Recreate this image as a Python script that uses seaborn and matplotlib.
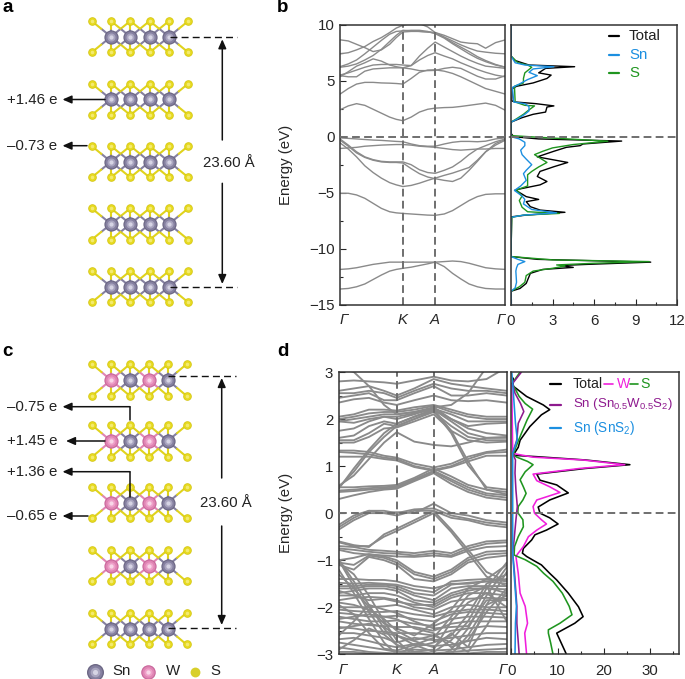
import pandas as pd
import matplotlib.pyplot as plt
import seaborn as sns

# ---- band structure, panel b: energies (eV) at the k grid
k_b = [0, .05, .1, .15, .2, .25, .3, .34, .38, .43, .48, .53, .575, .63, .68, .73, .78, .83, .88, .94, 1]
bands_b = [
    [-13.6, -13.55, -13.4, -13.15, -12.75, -12.35, -12.0, -11.85, -11.75, -11.65, -11.5, -11.35, -11.2, -11.6, -12.2, -12.7, -13.15, -13.4, -13.55, -13.6, -13.6],
    [-11.85, -11.8, -11.7, -11.55, -11.4, -11.3, -11.2, -11.2, -11.2, -11.2, -11.2, -11.2, -11.2, -11.15, -11.1, -11.15, -11.3, -11.5, -11.7, -11.8, -11.85],
    [-5.05, -5.05, -5.2, -5.5, -5.95, -6.4, -6.7, -6.8, -6.85, -6.9, -6.95, -7.0, -7.02, -6.9, -6.6, -6.15, -5.7, -5.35, -5.15, -5.1, -5.1],
    [-.55, -1.1, -1.8, -2.6, -3.2, -3.7, -4.1, -4.3, -4.45, -4.35, -4.15, -3.9, -3.7, -3.45, -3.25, -3.0, -2.75, -2.1, -1.35, -.75, -.3],
    [-.3, -.85, -1.45, -1.85, -2.1, -2.25, -2.3, -2.3, -2.35, -2.85, -3.3, -3.6, -3.75, -3.9, -4.0, -3.7, -3.0, -2.2, -1.35, -.6, -.25],
    [-.2, -.75, -1.35, -1.8, -2.05, -2.2, -2.25, -2.25, -2.25, -2.5, -2.95, -3.2, -3.27, -3.0, -2.7, -2.2, -1.6, -1.1, -.8, -.45, -.2],
    [-1.05, -1.0, -.95, -.85, -.8, -.75, -.72, -.7, -.7, -.75, -.85, -.9, -.95, -1.05, -1.15, -1.2, -1.15, -1.1, -1.1, -1.05, -1.05],
    [-.1, -.15, -.2, -.25, -.3, -.33, -.38, -.42, -.45, -.65, -.8, -.85, -.85, -.65, -.5, -.42, -.42, -.45, -.4, -.2, -.1],
    [2.4, 2.75, 2.95, 2.8, 2.45, 2.1, 1.75, 1.55, 1.43, 1.75, 2.2, 2.45, 2.55, 2.6, 2.62, 2.7, 2.8, 2.9, 3.0, 2.8, 2.35],
    [3.8, 4.3, 4.7, 4.85, 4.85, 4.8, 4.78, 4.75, 4.7, 5.2, 5.75, 5.95, 5.97, 5.85, 5.65, 5.35, 5.0, 4.65, 4.3, 4.05, 3.8],
    [5.45, 5.35, 5.35, 5.85, 6.05, 6.1, 6.15, 6.15, 6.15, 6.05, 5.9, 5.9, 5.92, 6.1, 6.2, 6.1, 5.75, 5.4, 5.15, 5.15, 5.45],
    [5.35, 5.8, 6.3, 6.6, 6.95, 6.75, 6.4, 6.25, 6.15, 6.35, 6.85, 7.25, 7.5, 7.2, 6.95, 6.6, 6.3, 6.0, 5.75, 5.5, 5.35],
    [5.5, 5.7, 5.95, 6.2, 6.4, 6.45, 6.45, 6.45, 6.4, 6.35, 7.2, 7.9, 8.45, 8.0, 7.6, 7.2, 6.85, 6.55, 6.3, 6.2, 6.1],
    [6.2, 6.3, 6.5, 6.85, 7.25, 7.8, 8.5, 9.05, 9.5, 9.45, 9.4, 9.35, 9.25, 8.85, 8.4, 8.0, 7.6, 7.15, 6.8, 6.45, 6.2],
    [7.4, 7.5, 7.75, 8.05, 8.5, 8.85, 9.3, 9.7, 9.95, 10.1, 10.1, 9.8, 9.3, 8.9, 8.55, 8.2, 7.9, 7.65, 7.55, 7.45, 7.4],
    [8.65, 8.55, 8.25, 7.95, 7.6, 7.75, 8.25, 8.85, 9.35, 9.4, 9.4, 9.35, 9.3, 9.05, 8.75, 8.45, 8.35, 8.3, 7.9, 8.4, 8.65],
    [6.25, 6.5, 6.85, 7.4, 8.0, 8.6, 9.15, 9.4, 9.45, 9.5, 9.5, 9.4, 9.2, 8.8, 8.3, 7.85, 7.4, 7.0, 6.7, 6.4, 6.2],
]

# ---- band structure, panel d
k_d = [0, .09, .18, .27, .345, .45, .565, .67, .77, .88, 1]
bands_d = [
    [2.55, 2.55, 2.6, 2.55, 2.45, 2.6, 2.75, 2.65, 2.6, 2.6, 2.55],
    [2.6, 2.65, 2.7, 2.6, 2.5, 2.65, 2.85, 2.75, 2.7, 2.65, 2.6],
    [2.45, 2.5, 2.55, 2.4, 2.4, 2.55, 2.7, 2.5, 2.5, 2.55, 2.5],
    [2.35, 2.42, 2.45, 2.35, 2.3, 2.4, 2.5, 2.4, 2.38, 2.4, 2.35],
    [2.8, 2.82, 2.8, 2.78, 2.75, 2.82, 2.9, 2.82, 2.8, 2.85, 3.1],
    [3.1, 3.0, 2.7, 2.3, 2.1, 2.15, 2.25, 2.3, 2.55, 3.1, 3.3],
    [2.05, 2.1, 2.2, 2.2, 2.18, 2.25, 2.3, 2.2, 2.1, 2.05, 2.05],
    [2.0, 2.05, 2.12, 2.15, 2.15, 2.2, 2.28, 2.15, 2.05, 2.0, 2.0],
    [1.95, 2.0, 2.05, 2.1, 2.1, 2.15, 2.22, 2.1, 1.95, 1.95, 1.95],
    [1.95, 1.92, 2.0, 2.05, 2.05, 2.12, 2.2, 2.0, 1.85, 1.9, 1.92],
    [1.75, 1.8, 1.95, 2.05, 2.0, 2.1, 2.25, 2.0, 1.8, 1.7, 1.65],
    [1.6, 1.65, 1.85, 1.95, 1.9, 2.05, 2.2, 1.95, 1.7, 1.6, 1.6],
    [1.55, 1.55, 1.7, 1.9, 1.85, 2.0, 2.15, 1.85, 1.62, 1.55, 1.55],
    [1.5, 1.5, 1.62, 1.8, 1.82, 1.95, 2.1, 1.75, 1.55, 1.5, 1.52],
    [1.33, 1.33, 1.3, 1.22, 1.18, 1.05, .97, 1.05, 1.2, 1.3, 1.35],
    [1.3, 1.28, 1.25, 1.18, 1.15, 1.0, .92, 1.0, 1.15, 1.28, 1.3],
    [1.2, 1.2, 1.2, 1.15, 1.12, .98, .9, .98, 1.1, 1.22, 1.22],
    [.55, .55, .57, .58, .6, .75, .95, .78, .6, .5, .45],
    [.48, .5, .53, .55, .57, .72, .9, .72, .55, .42, .38],
    [.45, .47, .5, .52, .55, .7, .88, .68, .5, .38, .33],
    [.3, .38, .45, .5, .52, .68, .85, .62, .45, .33, .28],
    [.58, .8, 1.15, 1.5, 1.72, 1.52, 1.45, 1.42, 1.5, 1.6, 1.62],
    [.52, .95, 1.35, 1.7, 1.9, 2.05, 2.2, 1.75, 1.1, .5, .4],
    [.55, .88, 1.3, 1.62, 1.85, 2.0, 2.18, 1.7, 1.02, .55, .5],
    [-.25, -.05, .05, .0, .02, .0, .2, .0, -.05, -.15, -.2],
    [-.3, -.1, .05, .05, .0, .08, .1, -.05, -.12, -.2, -.25],
    [-.35, -.15, 0, .0, -.05, .05, .05, -.1, -.15, -.25, -.3],
    [-.6, -.68, -.72, -.45, -.33, -.15, .05, -.35, -.78, -1.25, -1.45],
    [-.62, -.7, -.7, -.5, -.38, -.2, .0, -.4, -.85, -1.35, -1.55],
    [-.7, -.72, -.78, -.8, -.82, -.85, -.8, -.85, -.7, -.6, -.58],
    [-.75, -.78, -.82, -.85, -.86, -.9, -.85, -.9, -.75, -.65, -.62],
    [-.78, -.85, -.88, -.9, -.92, -.93, -.9, -.93, -.8, -.72, -.7],
    [-1.0, -.95, -.87, -.92, -1.0, -1.25, -1.35, -1.2, -.95, -.82, -.8],
    [-1.05, -1.1, -.9, -.95, -1.05, -1.3, -1.4, -1.25, -1.0, -.88, -.85],
    [-1.1, -1.2, -.93, -1.0, -1.1, -1.4, -1.45, -1.3, -1.05, -.95, -.9],
    [-.98, -1.45, -1.95, -2.45, -2.8, -2.95, -3.1, -2.9, -2.45, -1.75, -1.15],
    [-1.0, -1.55, -2.1, -2.55, -2.6, -2.8, -2.95, -2.7, -2.3, -1.6, -1.05],
    [-1.05, -1.3, -1.75, -2.3, -2.7, -3.05, -3.2, -3.0, -2.6, -1.95, -1.25],
    [-1.2, -1.7, -2.25, -2.75, -3.0, -2.85, -2.75, -2.6, -2.15, -1.5, -1.3],
    [-1.4, -1.4, -1.42, -1.42, -1.45, -1.55, -1.6, -1.5, -1.5, -1.45, -1.4],
    [-1.55, -1.55, -1.52, -1.52, -1.55, -1.7, -1.75, -1.52, -1.48, -1.45, -1.5],
    [-1.6, -1.6, -1.55, -1.55, -1.6, -1.75, -1.85, -1.6, -1.55, -1.55, -1.55],
    [-1.7, -1.65, -1.6, -1.6, -1.65, -1.85, -1.9, -1.7, -1.6, -1.6, -1.62],
    [-1.75, -1.75, -1.7, -1.7, -1.75, -1.9, -2.0, -1.8, -1.7, -1.7, -1.75],
    [-1.85, -1.8, -1.78, -1.8, -1.85, -2.0, -2.05, -1.88, -1.82, -1.8, -1.82],
    [-2.0, -2.0, -2.0, -1.98, -1.95, -2.05, -2.15, -2.0, -1.95, -2.0, -2.0],
    [-2.05, -2.08, -2.1, -2.1, -2.08, -2.15, -2.2, -2.1, -2.05, -2.05, -2.08],
    [-2.12, -2.15, -2.2, -2.2, -2.18, -2.25, -2.3, -2.15, -2.1, -2.12, -2.15],
    [-2.2, -2.25, -2.3, -2.3, -2.28, -2.35, -2.4, -2.25, -2.2, -2.2, -2.22],
    [-2.3, -2.35, -2.38, -2.4, -2.42, -2.42, -2.5, -2.35, -2.3, -2.3, -2.3],
    [-2.42, -2.45, -2.5, -2.52, -2.55, -2.55, -2.6, -2.5, -2.45, -2.4, -2.42],
    [-2.55, -2.55, -2.6, -2.65, -2.75, -2.65, -2.7, -2.65, -2.6, -2.55, -2.55],
    [-2.68, -2.65, -2.72, -2.8, -2.85, -2.78, -2.82, -2.8, -2.72, -2.65, -2.68],
    [-2.75, -2.8, -2.85, -2.9, -2.95, -2.9, -2.92, -2.9, -2.85, -2.8, -2.78],
    [-2.85, -2.9, -2.95, -2.97, -2.98, -2.95, -2.98, -2.95, -2.92, -2.9, -2.88],
    [-2.95, -2.95, -2.98, -3.0, -3.0, -2.98, -3.0, -2.98, -2.98, -2.95, -2.95],
    [-1.48, -1.5, -1.48, -1.5, -1.52, -1.62, -1.68, -1.45, -1.42, -1.4, -1.45],
    [-1.65, -1.75, -1.85, -1.82, -1.88, -1.95, -1.95, -1.75, -1.65, -1.58, -1.7],
    [-1.9, -1.95, -2.05, -2.25, -2.5, -2.7, -2.6, -2.75, -2.95, -2.4, -1.65],
    [-2.25, -2.2, -2.15, -2.2, -2.25, -2.45, -2.55, -2.85, -2.7, -2.1, -1.6],
    [-2.45, -2.4, -2.35, -2.42, -2.6, -2.72, -2.85, -2.55, -2.85, -1.95, -1.75],
    [-2.6, -2.3, -1.95, -2.05, -2.12, -2.3, -2.45, -2.42, -2.4, -1.85, -1.85],
    [-2.9, -2.7, -2.45, -2.58, -2.8, -2.95, -2.9, -2.3, -1.9, -1.7, -2.0],
    [-1.95, -2.15, -2.55, -2.88, -2.92, -2.8, -2.65, -2.2, -1.75, -1.55, -2.3],
    [-1.3, -1.6, -2.0, -2.35, -2.45, -2.6, -2.35, -2.05, -1.6, -1.4, -1.1],
]

# ---- density of states, panel b
e_total_b = [10, 7.2, 6.8, 6.4, 6.25, 6.1, 5.7, 5.5, 5.2, 4.8, 4.5, 4.3, 3.2, 3.1, 2.95, 2.75, 2.65, 2.2, 2.0, 1.7, 1.3, .3, 0, -.2, -.39, -.65, -.8, -.95, -1.3, -1.8, -2.3, -2.68, -3.1, -3.55, -4.0, -4.3, -4.75, -5.35, -5.6, -5.8, -6.25, -6.55, -6.75, -7.0, -7.15, -10.7, -10.95, -11.2, -11.4, -11.5, -11.67, -11.85, -12.2, -13.1, -13.55, -13.8, -15]
d_total_b = [0, 0, .3, 1.3, 4.6, 2.5, 2.0, 2.9, 2.6, 1.6, .4, .1, .05, .3, 1.8, 3.1, 2.6, 2.5, 1.6, .8, 0, 0, .2, 2, 8.0, 5.2, 5.0, 4.0, 3.1, 1.9, 4.1, 3.1, 2.1, 1.9, 2.6, 2.1, .3, 1.1, 2.0, 1.1, 1.4, 2.1, 3.9, 1.1, .05, 0, 1.9, 10.1, 5.5, 3.6, 4.5, 2.3, 1.4, 1.1, .65, 0, 0]
e_sn_b = [10, 7.2, 6.6, 6.4, 6.25, 6.05, 5.75, 5.45, 5.1, 4.7, 4.4, 3.1, 2.95, 2.7, 2.3, 2.0, 1.6, 1.3, 0, -.2, -.5, -.8, -1.2, -1.6, -2.0, -2.5, -3.0, -3.3, -3.9, -4.4, -4.8, -5.3, -5.6, -6.0, -6.5, -6.8, -7.0, -7.2, -10.7, -10.95, -11.15, -11.4, -11.7, -12.0, -13.0, -13.5, -13.8, -15]
d_sn_b = [0, 0, .3, 1, 3.1, 1.6, 1.3, 1.9, 1.2, .6, .1, .2, 1, 1.3, 1.3, 1, .5, 0, 0, .6, 1.0, 1.0, .7, .8, 1.1, 1.5, 1.1, .9, 1.1, .7, .25, .8, 1, .9, 1.5, 3.3, .9, 0, 0, .5, 1, .5, .4, .35, .4, .3, 0, 0]
e_s_b = [7.2, 6.6, 6.4, 6.2, 6.05, 5.7, 5.2, 4.8, 4.5, 3.1, 2.8, 2.75, 2.3, 2.0, 1.6, 1.3, .1, -.05, -.4, -.7, -1.0, -1.3, -1.6, -2.3, -2.7, -3.1, -3.4, -4.1, -4.4, -4.75, -5.3, -5.7, -6.3, -6.7, -6.85, -7.0, -7.2, -10.7, -11, -11.15, -11.3, -11.45, -11.55, -11.75, -12.0, -12.4, -13, -13.4, -13.8]
d_s_b = [0, .5, 1.2, 1.5, 1.35, 1.0, .9, .9, .25, .3, 1.0, 1.7, 1.2, .9, .4, 0, 0, 2, 7, 4.5, 3, 2.3, 1.7, 2.6, 2.0, 1.5, 1.2, 1.2, 1.2, .4, .8, .6, .8, 1.2, 3.5, .9, .05, 0, 3, 10, 6, 3.3, 3.9, 3, 1.6, 1.1, 1, .6, 0]

# ---- density of states, panel d
e_total_d = [2.87, 2.7, 2.48, 2.3, 2.2, 2.09, 1.84, 1.55, 1.4, 1.23, 1.2, 1.13, 1.03, .95, .83, .7, .6, .43, .28, .13, 0, -.1, -.23, -.36, -.46, -.57, -.75, -.85, -.92, -1.0, -1.1, -1.28, -1.42, -1.7, -1.99, -2.2, -2.34, -2.55, -2.7, -3.0]
d_total_d = [.4, .4, 3.3, 6.9, 8.3, 6.5, 4, 1.9, 1.5, .4, 5.5, 16, 25.6, 16, 5.5, 6.2, 9.8, 12.3, 8.3, 5.8, 6.2, 8.3, 10.1, 7.6, 5.1, 4.4, 2.6, 2.4, 3.3, 4.7, 6.5, 8.3, 9.8, 12.3, 14.5, 15.5, 13.7, 9.8, 10.5, 11.9]
e_w_d = [2.76, 1.27, 1.19, 1.13, 1.03, .95, .83, .69, .56, .44, .28, .14, 0, -.14, -.23, -.36, -.5, -.71, -.85, -.92, -1.28, -1.7, -1.98, -2.34, -2.55, -3.0]
d_w_d = [.1, .3, 4.7, 15.5, 24.5, 14.8, 4.7, 5.5, 8.3, 10.5, 5.5, 4.7, 5, 6.5, 7.6, 5.5, 3.7, 2.6, 1.5, 1, 1.5, 1.9, 3, 3.5, 2.9, 3.3]
e_s_d = [3.0, 2.76, 2.48, 2.33, 2.21, 1.98, 1.7, 1.41, 1.24, 1.19, 1.1, 1.03, .88, .71, .56, .42, .28, .14, .01, -.14, -.29, -.5, -.71, -.89, -.99, -1.13, -1.28, -1.45, -1.7, -1.98, -2.16, -2.34, -2.48, -2.55, -2.76, -3.0]
d_s_d = [1.9, .2, 1.7, 3, 4.6, 3.4, 2.2, 1.0, .4, 1.2, 3.5, 4.7, 3, 1.9, 2.6, 3.2, 2.5, 1.5, 1.4, 2.5, 2.6, 1.5, .7, .6, 3, 5.5, 7, 9, 11, 12.5, 13.1, 10.5, 8, 8, 8.5, 9]
e_sn1_d = [3.0, 2.76, 2.55, 2.33, 2.16, 1.91, 1.56, 1.27, 1.13, .85, .49, .14, -.14, -.57, -.85, -1.28, -1.98, -2.34, -3.0]
d_sn1_d = [2.2, .3, .8, 2, 2.7, 1.5, 1.2, .3, .9, .8, 1.0, 1.3, 1, .6, .3, .7, 1.2, 1.2, 1.7]
e_sn2_d = [3.0, 2.62, 1.91, 1.56, 1.27, .85, .14, -.85, -1.28, -1.98, -2.34, -3.0]
d_sn2_d = [.1, .4, .9, 1.3, .3, .3, .3, .3, .6, 1.1, .9, .8]

# ---- atoms and labels of the structure drawings (pixel positions on the page)
col_a = [91.7, 111, 130.3, 149.7, 169, 188.3]
layers_a = [36.7, 99.3, 161.7, 224, 286.7]
col_c = [92.3, 111, 130, 149, 167.7, 186.7]
layers_c = [380, 441, 502.7, 565.7, 628.7]
metals_a = [['Sn', 'Sn', 'Sn', 'Sn']] * 5
metals_c = [['W', 'Sn', 'W', 'Sn']] * 4 + [['Sn', 'Sn', 'Sn', 'Sn']]
kpath_labels = ['Γ', 'K', 'A', 'Γ']

GREY = '#8a8a8a'
DASH = '#6f6f6f'
FRAME = '#333333'
COLORS = {'Total': '#000000', 'Sn': '#1c8fe0', 'S': '#1f951f', 'W': '#f01fdc', 'Sn1': '#8e1a8e'}
ATOM = {'Sn': ['#6c6784', '#8580a0', '#a9a5bf', '#d6d4e4'],
        'W': ['#c9689c', '#e085b4', '#ee9fc8', '#f9d6e8']}

sns.set_style('white')
plt.rcParams['font.family'] = ['Liberation Sans', 'DejaVu Sans']
plt.rcParams['mathtext.fontset'] = 'custom'
plt.rcParams['mathtext.rm'] = 'Liberation Sans'
plt.rcParams['font.size'] = 10.8
plt.rcParams['text.color'] = '#222222'

W, H = 685, 679
fig = plt.figure(figsize=(W / 100, H / 100), dpi=100)


def box(left, top, right, bottom):
    ax = fig.add_axes([left / W, 1 - bottom / H, (right - left) / W, (bottom - top) / H])
    for s in ax.spines.values():
        s.set_linewidth(1.1)
        s.set_color(FRAME)
    return ax


def bands_panel(ax, k, bands, k_ticks, ylim, yticks, yminor, lw, label_x):
    df = pd.DataFrame([(i, x, e) for i, b in enumerate(bands) for x, e in zip(k, b)],
                      columns=['band', 'k', 'energy'])
    sns.lineplot(data=df, x='k', y='energy', units='band', estimator=None, sort=False,
                 color=GREY, lw=lw, ax=ax)
    for x in k_ticks[1:3]:
        ax.axvline(x, color=DASH, lw=1.4, ls=(0, (4, 2.2)))
    ax.axhline(0, xmax=1.04, color=DASH, lw=1.4, ls=(0, (4, 2.2)), clip_on=False, zorder=5)
    ax.set_xlim(0, 1)
    ax.set_ylim(*ylim)
    ax.set_xticks(k_ticks, kpath_labels, style='italic')
    ax.set_yticks(yticks, [str(t).replace('-', '\u2212') for t in yticks])
    ax.set_yticks(yminor, minor=True)
    ax.tick_params(axis='x', length=0, pad=6, labelsize=10.8)
    ax.tick_params(axis='y', which='major', direction='in', length=4, width=.8, pad=4, left=True, labelsize=10.8)
    ax.tick_params(axis='y', which='minor', direction='in', length=2.5, width=.8, left=True)
    ax.set_xlabel('')
    ax.set_ylabel('Energy (eV)', fontsize=10.8)
    ax.yaxis.set_label_coords(label_x, .5)
    labels = ax.get_xticklabels()
    labels[0].set_ha('left')
    labels[-1].set_ha('right')


def dos_panel(ax, series, ylim, xlim, xticks, xminor, lw):
    df = pd.concat([pd.DataFrame({'species': n, 'energy': e, 'dos': d}) for n, e, d in series])
    names = [s[0] for s in series]
    sns.lineplot(data=df, x='dos', y='energy', hue='species', hue_order=names,
                 palette={n: COLORS[n] for n in names}, estimator=None, sort=False,
                 lw=lw, legend=False, ax=ax)
    ax.axhline(0, color=DASH, lw=1.4, ls=(0, (4, 2.2)), zorder=5)
    ax.set_xlim(*xlim)
    ax.set_ylim(*ylim)
    ax.set_yticks([])
    ax.set_xticks(xticks)
    ax.set_xticks(xminor, minor=True)
    ax.tick_params(axis='x', which='major', direction='in', length=4, width=.8, pad=7, bottom=True, labelsize=10.8)
    ax.tick_params(axis='x', which='minor', direction='in', length=2.5, width=.8, bottom=True)
    ax.set_xlabel('')
    ax.set_ylabel('')


# panel b
ax_b = box(340, 24.7, 505.5, 304.7)
bands_panel(ax_b, k_b, bands_b, [0, .38, .575, 1], (-15, 10), [-15, -10, -5, 0, 5, 10],
            [-12.5, -7.5, -2.5, 2.5, 7.5], 1.0, (293 - 340) / 165.5)
ax_b2 = box(511, 24.7, 677, 304.7)
dos_panel(ax_b2, [('Total', e_total_b, d_total_b), ('S', e_s_b, d_s_b), ('Sn', e_sn_b, d_sn_b)],
          (-15, 10), (0, 12), [0, 3, 6, 9, 12], [1.5, 4.5, 7.5, 10.5], 1.0)

# panel d
ax_d = box(338.7, 372, 506.7, 654.3)
bands_panel(ax_d, k_d, bands_d, [0, .345, .565, 1], (-3, 3), [-3, -2, -1, 0, 1, 2, 3],
            [-2.5, -1.5, -.5, .5, 1.5, 2.5], 1.35, (293 - 338.7) / 168)
ax_d2 = box(511.3, 372, 679, 654.3)
dos_panel(ax_d2, [('Total', e_total_d, d_total_d), ('W', e_w_d, d_w_d), ('S', e_s_d, d_s_d),
                  ('Sn1', e_sn1_d, d_sn1_d), ('Sn', e_sn2_d, d_sn2_d)],
          (-3, 3), (0, 36.2), [0, 10, 20, 30], [5, 15, 25, 35], 1.15)

# page overlay for the structure drawings and the hand placed legends
page = fig.add_axes([0, 0, 1, 1], zorder=10)
page.patch.set_alpha(0)
page.axis('off')
page.set_xlim(0, W)
page.set_ylim(H, 0)


def atom(x, y, kind, size):
    if kind == 'S':
        page.scatter([x], [y], s=size, c='#d2c414', lw=0, zorder=6)
        page.scatter([x], [y], s=size * .72, c='#e6d91f', lw=0, zorder=7)
        page.scatter([x], [y], s=size * .18, c='#f3ea70', lw=0, zorder=8)
    else:
        for f, c in zip([1, .7, .32, .09], ATOM[kind]):
            page.scatter([x], [y], s=size * f, c=c, lw=0, zorder=6)


def structure(cols, layers, metals, off=15.7):
    step = cols[1] - cols[0]
    for y, row in zip(layers, metals):
        for x, kind in zip(cols[1:5], row):
            for dy in (-off, off):
                for dx in (-step, 0, step):
                    mx, my = x + dx / 2, y + dy / 2
                    page.plot([x, mx], [y, my], color=ATOM[kind][1], lw=1.5, zorder=3)
                    page.plot([mx, x + dx], [my, y + dy], color='#e0d31c', lw=1.5, zorder=3)
        for x in cols:
            atom(x, y - off, 'S', 38)
            atom(x, y + off, 'S', 38)
        for x, kind in zip(cols[1:5], row):
            atom(x, y, kind, 105)


def arrow(path):
    xs = [p[0] for p in path]
    ys = [p[1] for p in path]
    page.plot(xs[:-1], ys[:-1], color='#111111', lw=1.1, zorder=9)
    page.annotate('', xy=path[-1], xytext=path[-2],
                  arrowprops=dict(arrowstyle='-|>,head_width=.22,head_length=.5', color='#111111',
                                  lw=1.1, shrinkA=0, shrinkB=0), zorder=9)


structure(col_a, layers_a, metals_a)
structure(col_c, layers_c, metals_c)

for txt, y, start in [('+1.46 e', 99.5, [(105, 99.5)]), ('\u20130.73 e', 145.7, [(87, 145.7)]),
                      ('\u20130.75 e', 406.7, [(130, 420), (130, 406.7)]), ('+1.45 e', 441, [(105, 441)]),
                      ('+1.36 e', 471.7, [(130, 496.7), (130, 471.7)]), ('\u20130.65 e', 516, [(88, 516)])]:
    page.text(57.5, y, txt, ha='right', va='center', fontsize=10.8)
    arrow(start + [(62.5 if txt != '+1.45 e' else 66, y)])

for x, rows, label in [(222.3, [(140, 39.3), (183.3, 284)], (228.8, 163)),
                       (221.7, [(478, 378), (526, 625)], (225.7, 503))]:
    for a, b in rows:
        arrow([(x, a), (x, b)])
    page.text(label[0], label[1], '23.60 Å', ha='center', va='center', fontsize=10.8)
for y, x0, x1 in [(37, 170, 237), (287, 170, 237), (376, 168, 236), (628, 168, 236)]:
    page.plot([x0, x1], [y, y], color='#111111', lw=1.0, ls=(0, (5, 3)), zorder=9)

# atom key of panel c
atom(95, 671.7, 'Sn', 150)
atom(148, 671.7, 'W', 110)
page.scatter([195], [671.7], s=50, c='#d8cf2a', lw=0, zorder=6)
for x, t in [(112, 'Sn'), (166, 'W'), (210, 'S')]:
    page.text(x, 671, t, va='center', fontsize=10.8)

# legend of panel b
for y, n, t in [(36, 'Total', 'Total'), (55, 'Sn', 'Sn'), (73, 'S', 'S')]:
    page.plot([609, 619.5], [y, y], color=COLORS[n], lw=1.6)
    page.text(629, y, t, va='center', fontsize=10.8, color=COLORS[n] if n != 'Total' else '#222222')

# legend of panel d
page.plot([550, 560.7], [383.7, 383.7], color=COLORS['Total'], lw=1.6)
page.text(572.7, 383.5, 'Total', va='center', fontsize=10.2)
page.plot([604, 613.3], [383.7, 383.7], color=COLORS['W'], lw=1.2)
page.text(616.7, 383.5, 'W', va='center', fontsize=10.2, color=COLORS['W'])
page.plot([630, 638], [383.7, 383.7], color=COLORS['S'], lw=1.2)
page.text(640, 383.5, 'S', va='center', fontsize=10.2, color=COLORS['S'])
page.plot([550, 560.7], [405, 405], color=COLORS['Sn1'], lw=1.6)
page.text(572.7, 404, r'Sn (Sn$_{\mathregular{0.5}}$W$_{\mathregular{0.5}}$S$_{\mathregular{2}}$)',
          va='center', fontsize=9.5, color=COLORS['Sn1'])
page.plot([550, 560.7], [427.7, 427.7], color=COLORS['Sn'], lw=1.6)
page.text(572.7, 428, r'Sn (SnS$_{\mathregular{2}}$)', va='center', fontsize=9.8, color=COLORS['Sn'])

# panel letters
for x, y, t in [(3, 8, 'a'), (277, 7, 'b'), (2, 352, 'c'), (277, 351, 'd')]:
    page.text(x, y, t, fontsize=13.5, fontweight='bold', va='center', color='black')

plt.savefig('out.png', dpi=100)
